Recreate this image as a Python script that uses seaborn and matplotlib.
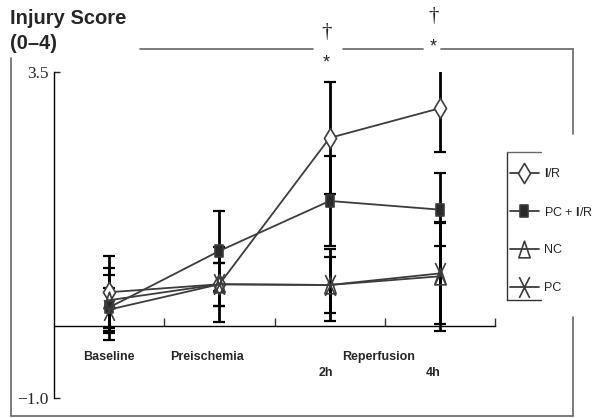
import numpy as np
import pandas as pd
import matplotlib
matplotlib.use("Agg")
import matplotlib.pyplot as plt
from matplotlib.path import Path
from matplotlib.lines import Line2D
import seaborn as sns

sns.set_style("white")
plt.rcParams['font.family'] = ['Liberation Sans', 'DejaVu Sans']
plt.rcParams['mathtext.fontset'] = 'custom'
plt.rcParams['mathtext.rm'] = 'Liberation Sans'
plt.rcParams['mathtext.bf'] = 'Liberation Sans:bold'

# ---------------- data ----------------
timepoints = ["Baseline", "Preischemia", "2h", "4h"]
groups = ["I/R", "PC + I/R", "NC", "PC"]
legend_labels = [r"$\mathbf{I}$/R", r"PC + $\mathbf{I}$/R", "NC", "PC"]
ir_mean = [0.46, 0.57, 2.59, 3.00]
ir_err = [0.50, 0.30, 0.77, 0.60]
pcir_mean = [0.25, 1.03, 1.72, 1.60]
pcir_err = [0.45, 0.55, 0.62, 0.50]
nc_mean = [0.35, 0.57, 0.56, 0.68]
nc_err = [0.45, 0.52, 0.39, 0.75]
pc_mean = [0.22, 0.57, 0.56, 0.72]
pc_err = [0.30, 0.30, 0.50, 0.70]

means = [ir_mean, pcir_mean, nc_mean, pc_mean]
errs = [ir_err, pcir_err, nc_err, pc_err]

rows = []
for g, m, e in zip(groups, means, errs):
    for i, t in enumerate(timepoints):
        rows.append({"group": g, "pos": i, "time": t, "score": m[i], "err": e[i]})
df = pd.DataFrame(rows)

# ---------------- markers ----------------
diamond = Path([(0, 0.5), (0.3, 0), (0, -0.5), (-0.3, 0), (0, 0.5)],
               [Path.MOVETO, Path.LINETO, Path.LINETO, Path.LINETO, Path.CLOSEPOLY])
rect = Path([(-0.29, -0.5), (0.29, -0.5), (0.29, 0.5), (-0.29, 0.5), (-0.29, -0.5)],
            [Path.MOVETO, Path.LINETO, Path.LINETO, Path.LINETO, Path.CLOSEPOLY])
tri = Path([(-0.34, -0.5), (0.34, -0.5), (0, 0.5), (-0.34, -0.5)],
           [Path.MOVETO, Path.LINETO, Path.LINETO, Path.CLOSEPOLY])
xmark = Path([(-0.25, -0.5), (0.25, 0.5), (-0.25, 0.5), (0.25, -0.5)],
             [Path.MOVETO, Path.LINETO, Path.MOVETO, Path.LINETO])

line_col = "#3c3c3c"
styles = {
    "I/R": dict(marker=diamond, markersize=14.5, markerfacecolor="white"),
    "PC + I/R": dict(marker=rect, markersize=9, markerfacecolor="#2a2a2a"),
    "NC": dict(marker=tri, markersize=12, markerfacecolor="none"),
    "PC": dict(marker=xmark, markersize=15, markerfacecolor="none"),
}

fig = plt.figure(figsize=(5.93, 4.18), dpi=100)
ax = fig.add_axes([54 / 593, 1 - 398 / 418, 441 / 593, 326 / 418])

# error bars
for g in groups:
    sub = df[df.group == g]
    ax.errorbar(sub["pos"], sub["score"], yerr=sub["err"], fmt="none",
                ecolor="black", elinewidth=2.0, capsize=4, capthick=1.6, zorder=2)

handles = []
for g, lab in zip(groups, legend_labels):
    sub = df[df.group == g]
    sns.lineplot(data=sub, x="pos", y="score", ax=ax, color=line_col, linewidth=1.3,
                 markeredgecolor=line_col, markeredgewidth=1.2, zorder=3,
                 legend=False, errorbar=None, **styles[g])
    handles.append(Line2D([], [], color=line_col, linewidth=1.3,
                          markeredgecolor=line_col, markeredgewidth=1.2,
                          label=lab, **styles[g]))

ax.set_xlim(-0.5, 3.5)
ax.set_ylim(-1.0, 3.5)
ax.set_xlabel("")
ax.set_ylabel("")
for s in ["top", "right"]:
    ax.spines[s].set_visible(False)
ax.spines["bottom"].set_position(("data", 0))
ax.spines["bottom"].set_color("black")
ax.spines["left"].set_color("black")
ax.spines["bottom"].set_linewidth(1.0)
ax.spines["left"].set_linewidth(1.0)

ax.set_xticks([0.5, 1.5, 2.5, 3.5])
ax.set_xticklabels([])
ax.tick_params(axis="x", direction="in", length=6, width=1, color="#333333", bottom=True)
ax.set_yticks([3.5, -1.0])
ax.set_yticklabels(["3.5", "\u22121.0"], fontfamily="Liberation Serif", fontsize=12.5)
ax.tick_params(axis="y", direction="in", length=4, width=1, left=True, pad=4)

# category labels
lab_kw = dict(fontsize=9, fontweight="bold", ha="center", va="center", clip_on=False)
ax.text(0, -0.435, "Baseline", **lab_kw)
ax.text(0.89, -0.435, "Preischemia", **lab_kw)
ax.text(2.44, -0.435, "Reperfusion", **lab_kw)
ax.text(1.97, -0.66, "2h", **lab_kw)
ax.text(2.94, -0.66, "4h", **lab_kw)

# significance marks
ax.text(1.97, 4.04, "\u2020", fontsize=15, ha="center", va="center",
        fontfamily="Liberation Serif", clip_on=False)
ax.text(1.97, 3.62, "*", fontsize=13, ha="center", va="center", clip_on=False)
ax.text(2.94, 4.27, "\u2020", fontsize=15, ha="center", va="center",
        fontfamily="Liberation Serif", clip_on=False)
ax.text(2.94, 3.85, "*", fontsize=13, ha="center", va="center", clip_on=False)

# title
fig.text(10 / 593, 1 - 9 / 418, "Injury Score\n(0\u20134)", fontsize=14.5, fontweight="bold",
         ha="left", va="top", linespacing=1.4)

# legend
leg = fig.legend(handles=handles, loc="upper left",
                 bbox_to_anchor=(510 / 593, 1 - 167 / 418), frameon=False,
                 fontsize=9, handlelength=2.3, handletextpad=0.4,
                 labelspacing=2.05, borderaxespad=0, borderpad=0)

# frame decoration
def px_line(xs, ys, color="#666666", lw=1.2):
    fig.add_artist(Line2D([x / 593 for x in xs], [1 - y / 418 for y in ys],
                          color=color, linewidth=lw, transform=fig.transFigure))

px_line([11, 11], [58, 416])
px_line([11, 573], [416, 416])
px_line([573, 573], [49, 134])
px_line([573, 573], [317, 416])
px_line([140, 313], [49, 49])
px_line([343, 423], [49, 49])
px_line([441, 573], [49, 49])
px_line([507, 507], [152, 300], color="#333333", lw=1.0)
px_line([507, 541], [152, 152], color="#666666", lw=1.0)
px_line([507, 541], [300, 300], color="#333333", lw=1.0)

fig.savefig("out.png", dpi=100)
